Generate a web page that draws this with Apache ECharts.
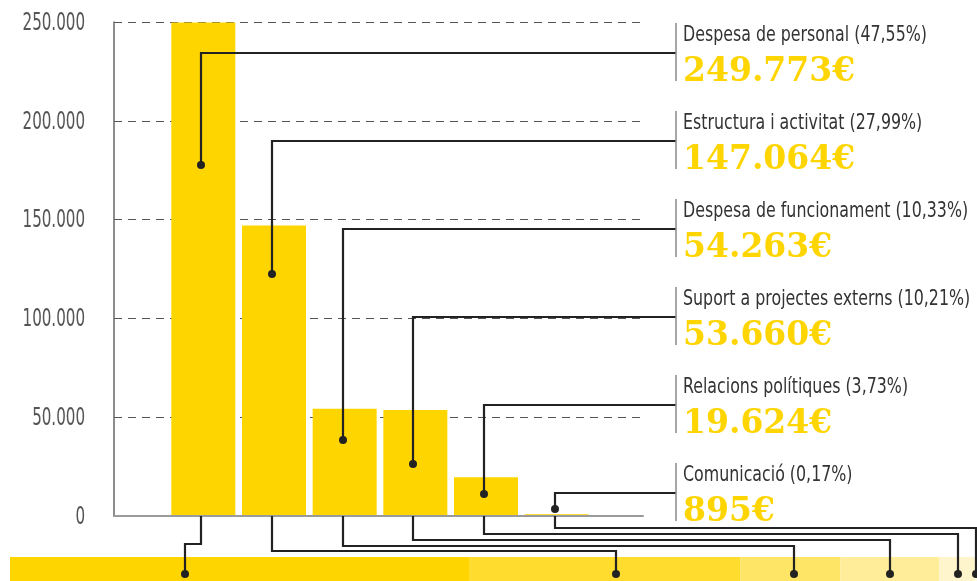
<!DOCTYPE html>
<html>
<head>
<meta charset="utf-8">
<script src="https://cdn.jsdelivr.net/npm/echarts@6/dist/echarts.min.js"></script>
<style>
  html, body { margin: 0; padding: 0; background: #fff; }
  #chart { width: 977px; height: 581px; }
</style>
</head>
<body>
<div id="chart"></div>
<script>
// dades
const categories = ["Despesa de personal", "Estructura i activitat", "Despesa de funcionament",
  "Suport a projectes externs", "Relacions polítiques", "Comunicació"];
const amounts = [249773, 147064, 54263, 53660, 19624, 895];
const percentLabels = ["47,55%", "27,99%", "10,33%", "10,21%", "3,73%", "0,17%"];
const amountLabels = ["249.773€", "147.064€", "54.263€", "53.660€", "19.624€", "895€"];
const yTicks = [0, 50000, 100000, 150000, 200000, 250000];
const yTickLabels = ["0", "50.000", "100.000", "150.000", "200.000", "250.000"];
const stripColors = ["#FFD500", "#FFDC2E", "#FFE566", "#FFED99", "#FFF5CC", "#FFFAE3"];

// layout (pixels)
const LABEL_X = 676, LABEL_ROW0 = 53, LABEL_STEP = 88;
const DOT_Y = [165, 274, 440, 464, 494, 509];
const STRIP_LEVEL_Y = [544, 551, 546, 540, 534, 528];
const STRIP_DOT_FRAC = [0.38, 0.54, 0.54, 0.5, 0.52, 0.5];
const STRIP_DOT_Y = 574;

const CONDENSED = "'DejaVu Sans Condensed', 'DejaVu Sans', sans-serif";
const YELLOW = "#FFD500";
const total = amounts.reduce((a, b) => a + b, 0);

const chart = echarts.init(document.getElementById("chart"));

const option = {
  animation: false,
  grid: [
    { left: 114, width: 529, top: 22, height: 494 },
    { left: 168, width: 424, top: 22, height: 494 },
    { left: 10, width: 967, top: 557, height: 24 },
  ],
  xAxis: [
    {
      gridIndex: 0, type: "value", min: 0, max: 1, z: 5,
      axisLine: { show: true, onZero: false, lineStyle: { color: "#9a9a9a", width: 2 } },
      axisTick: { show: false }, axisLabel: { show: false }, splitLine: { show: false },
    },
    { gridIndex: 1, type: "category", data: categories, show: false },
    { gridIndex: 2, type: "value", min: 0, max: total, show: false },
  ],
  yAxis: [
    {
      gridIndex: 0, type: "value", min: 0, max: 250000, interval: 50000,
      axisLine: { show: true, lineStyle: { color: "#666", width: 1.5 } },
      axisTick: { show: false },
      axisLabel: { show: false },
      splitLine: { show: true, lineStyle: { color: "#555", width: 1, type: [8, 6] } },
    },
    { gridIndex: 1, type: "value", min: 0, max: 250000, show: false },
    { gridIndex: 2, type: "category", data: ["total"], show: false },
  ],
  series: [
    {
      type: "bar", xAxisIndex: 1, yAxisIndex: 1, data: amounts,
      barWidth: 64, itemStyle: { color: YELLOW }, z: 2,
    },
  ].concat(amounts.map((v, i) => ({
    type: "bar", xAxisIndex: 2, yAxisIndex: 2, stack: "strip",
    data: [v], barWidth: "100%", itemStyle: { color: stripColors[i] },
  }))),
};
chart.setOption(option);

const els = [];

// etiquetes de l'eix Y (text estret, com l'original)
yTicks.forEach((v, k) => {
  const py = chart.convertToPixel({ xAxisIndex: 0, yAxisIndex: 0 }, [0, v])[1];
  els.push({ type: "text", z: 100, x: 85, y: py + 1.5, scaleX: 0.7,
    style: { text: yTickLabels[k], fill: "#555", fontSize: 24, fontFamily: CONDENSED,
      align: "right", verticalAlign: "middle" } });
});

// connectors i etiquetes
const lineStyle = { stroke: "#222", lineWidth: 2.2, fill: null };
const baseY = Math.round(chart.convertToPixel({ xAxisIndex: 1, yAxisIndex: 1 }, [0, 0])[1]);
let cum = 0;
categories.forEach((name, i) => {
  const cx = chart.convertToPixel({ xAxisIndex: 1, yAxisIndex: 1 }, [i, 0])[0];
  const x = Math.round(cx) - 2;
  const rowY = LABEL_ROW0 + i * LABEL_STEP;

  // connector superior
  els.push({ type: "polyline", z: 100,
    shape: { points: [[x, DOT_Y[i]], [x, rowY], [LABEL_X, rowY]] }, style: lineStyle });
  els.push({ type: "circle", z: 101, shape: { cx: x, cy: DOT_Y[i], r: 4 }, style: { fill: "#222" } });

  // connector inferior
  const sx = Math.round(chart.convertToPixel({ xAxisIndex: 2, yAxisIndex: 2 },
    [cum + amounts[i] * STRIP_DOT_FRAC[i], 0])[0]);
  cum += amounts[i];
  els.push({ type: "polyline", z: 100,
    shape: { points: [[x, baseY], [x, STRIP_LEVEL_Y[i]], [sx, STRIP_LEVEL_Y[i]], [sx, STRIP_DOT_Y]] },
    style: lineStyle });
  els.push({ type: "circle", z: 101, shape: { cx: sx, cy: STRIP_DOT_Y, r: 4 }, style: { fill: "#222" } });

  // etiqueta
  els.push({ type: "line", z: 100,
    shape: { x1: LABEL_X, y1: rowY - 30, x2: LABEL_X, y2: rowY + 28 },
    style: { stroke: "#888", lineWidth: 1.5 } });
  els.push({ type: "text", z: 100, x: 683, y: rowY - 18, scaleX: 0.8,
    style: { text: name + " (" + percentLabels[i] + ")", fill: "#333", fontSize: 22,
      fontFamily: CONDENSED, verticalAlign: "middle", align: "left" } });
  els.push({ type: "text", z: 100, x: 683, y: rowY + 19.5,
    style: { text: amountLabels[i], fill: YELLOW, fontSize: 33, fontWeight: "bold",
      fontFamily: "'DejaVu Serif', serif", verticalAlign: "middle", align: "left" } });
});
chart.setOption({ graphic: els });
</script>
</body>
</html>
